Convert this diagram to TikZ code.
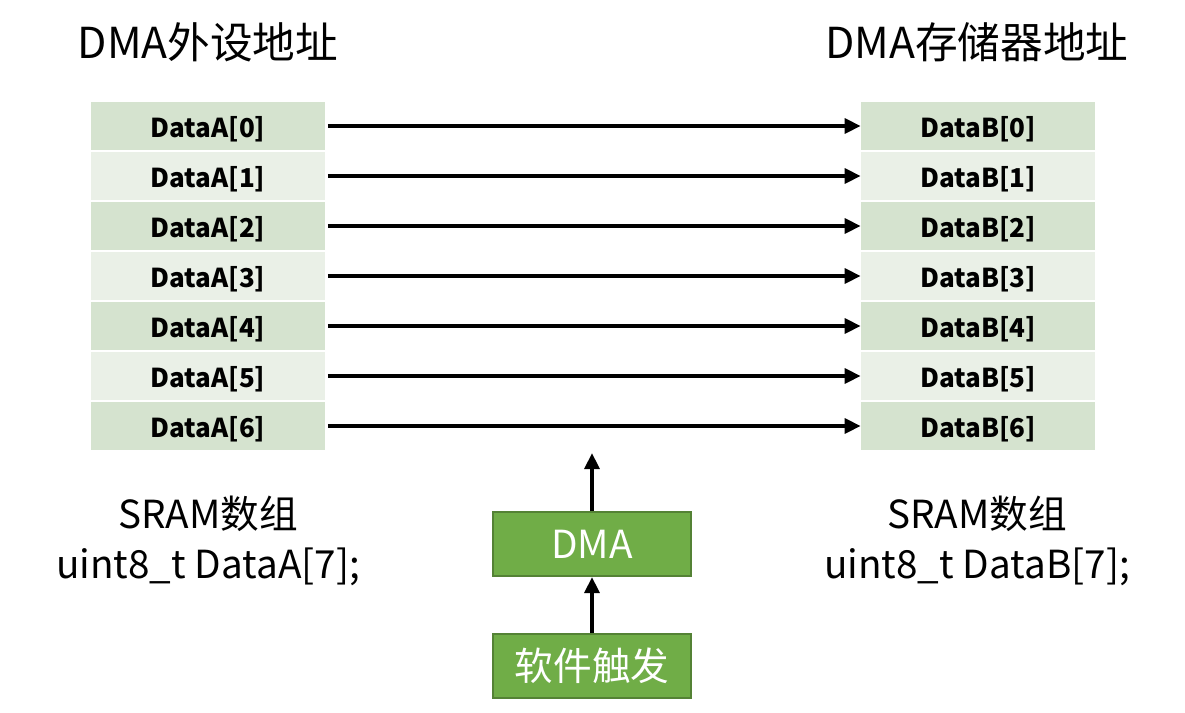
\documentclass[tikz,border=0pt]{standalone}
\usepackage{fontspec}
\setmainfont{Noto Sans CJK SC}
\usetikzlibrary{arrows.meta}

\definecolor{rowdark}{HTML}{D5E3CF}
\definecolor{rowlight}{HTML}{EAF0E7}
\definecolor{dmagreen}{HTML}{70AD47}
\definecolor{dmaedge}{HTML}{548235}

\begin{document}
\begin{tikzpicture}[x=0.75pt,y=-0.75pt,
    cell/.style={minimum width=175.5pt,minimum height=36pt,inner sep=0pt,
        text height=18pt,text depth=1pt,
        font=\fontsize{19.5}{22}\selectfont\bfseries},
    blockbox/.style={draw=dmaedge,line width=1.5pt,fill=dmagreen,text=white,
        minimum width=149pt,minimum height=48pt,inner sep=0pt,
        font=\fontsize{29}{32}\selectfont},
    caption/.style={align=center,font=\fontsize{29}{37}\selectfont},
    flow/.style={line width=3pt,-{Triangle[length=12pt,width=11pt]}}]
    % white page with the reference's margins
    \useasboundingbox[fill=white] (0,0) rectangle (1185,713);

    \node[caption,font=\fontsize{32}{37}\selectfont] (srctitle) at (208,42) {DMA外设地址};
    \node[caption,font=\fontsize{32}{37}\selectfont] (dsttitle) at (977,42) {DMA存储器地址};

    % the two arrays, one arrow per element
    \foreach \i in {0,...,6} {
        \ifodd\i \def\rowcol{rowlight}\else \def\rowcol{rowdark}\fi
        \node[cell,fill=\rowcol] (a\i) at (208,126+50*\i) {DataA[\i]};
        \node[cell,fill=\rowcol] (b\i) at (978,126+50*\i) {DataB[\i]};
        \draw[flow,shorten <=2pt] (a\i) -- (b\i);
    }

    \node[caption] (srcarr) at (208,541) {SRAM数组\\uint8\_t DataA[7];};
    \node[caption] (dstarr) at (977,541) {SRAM数组\\uint8\_t DataB[7];};

    \node[blockbox] (dma) at (592,544) {DMA};
    \node[blockbox] (trig) at (592,666) {软件触发};
    \coordinate (dmaout) at (592,453);

    \draw[flow] (dma) -- (dmaout);
    \draw[flow] (trig) -- (dma);
\end{tikzpicture}
\end{document}
